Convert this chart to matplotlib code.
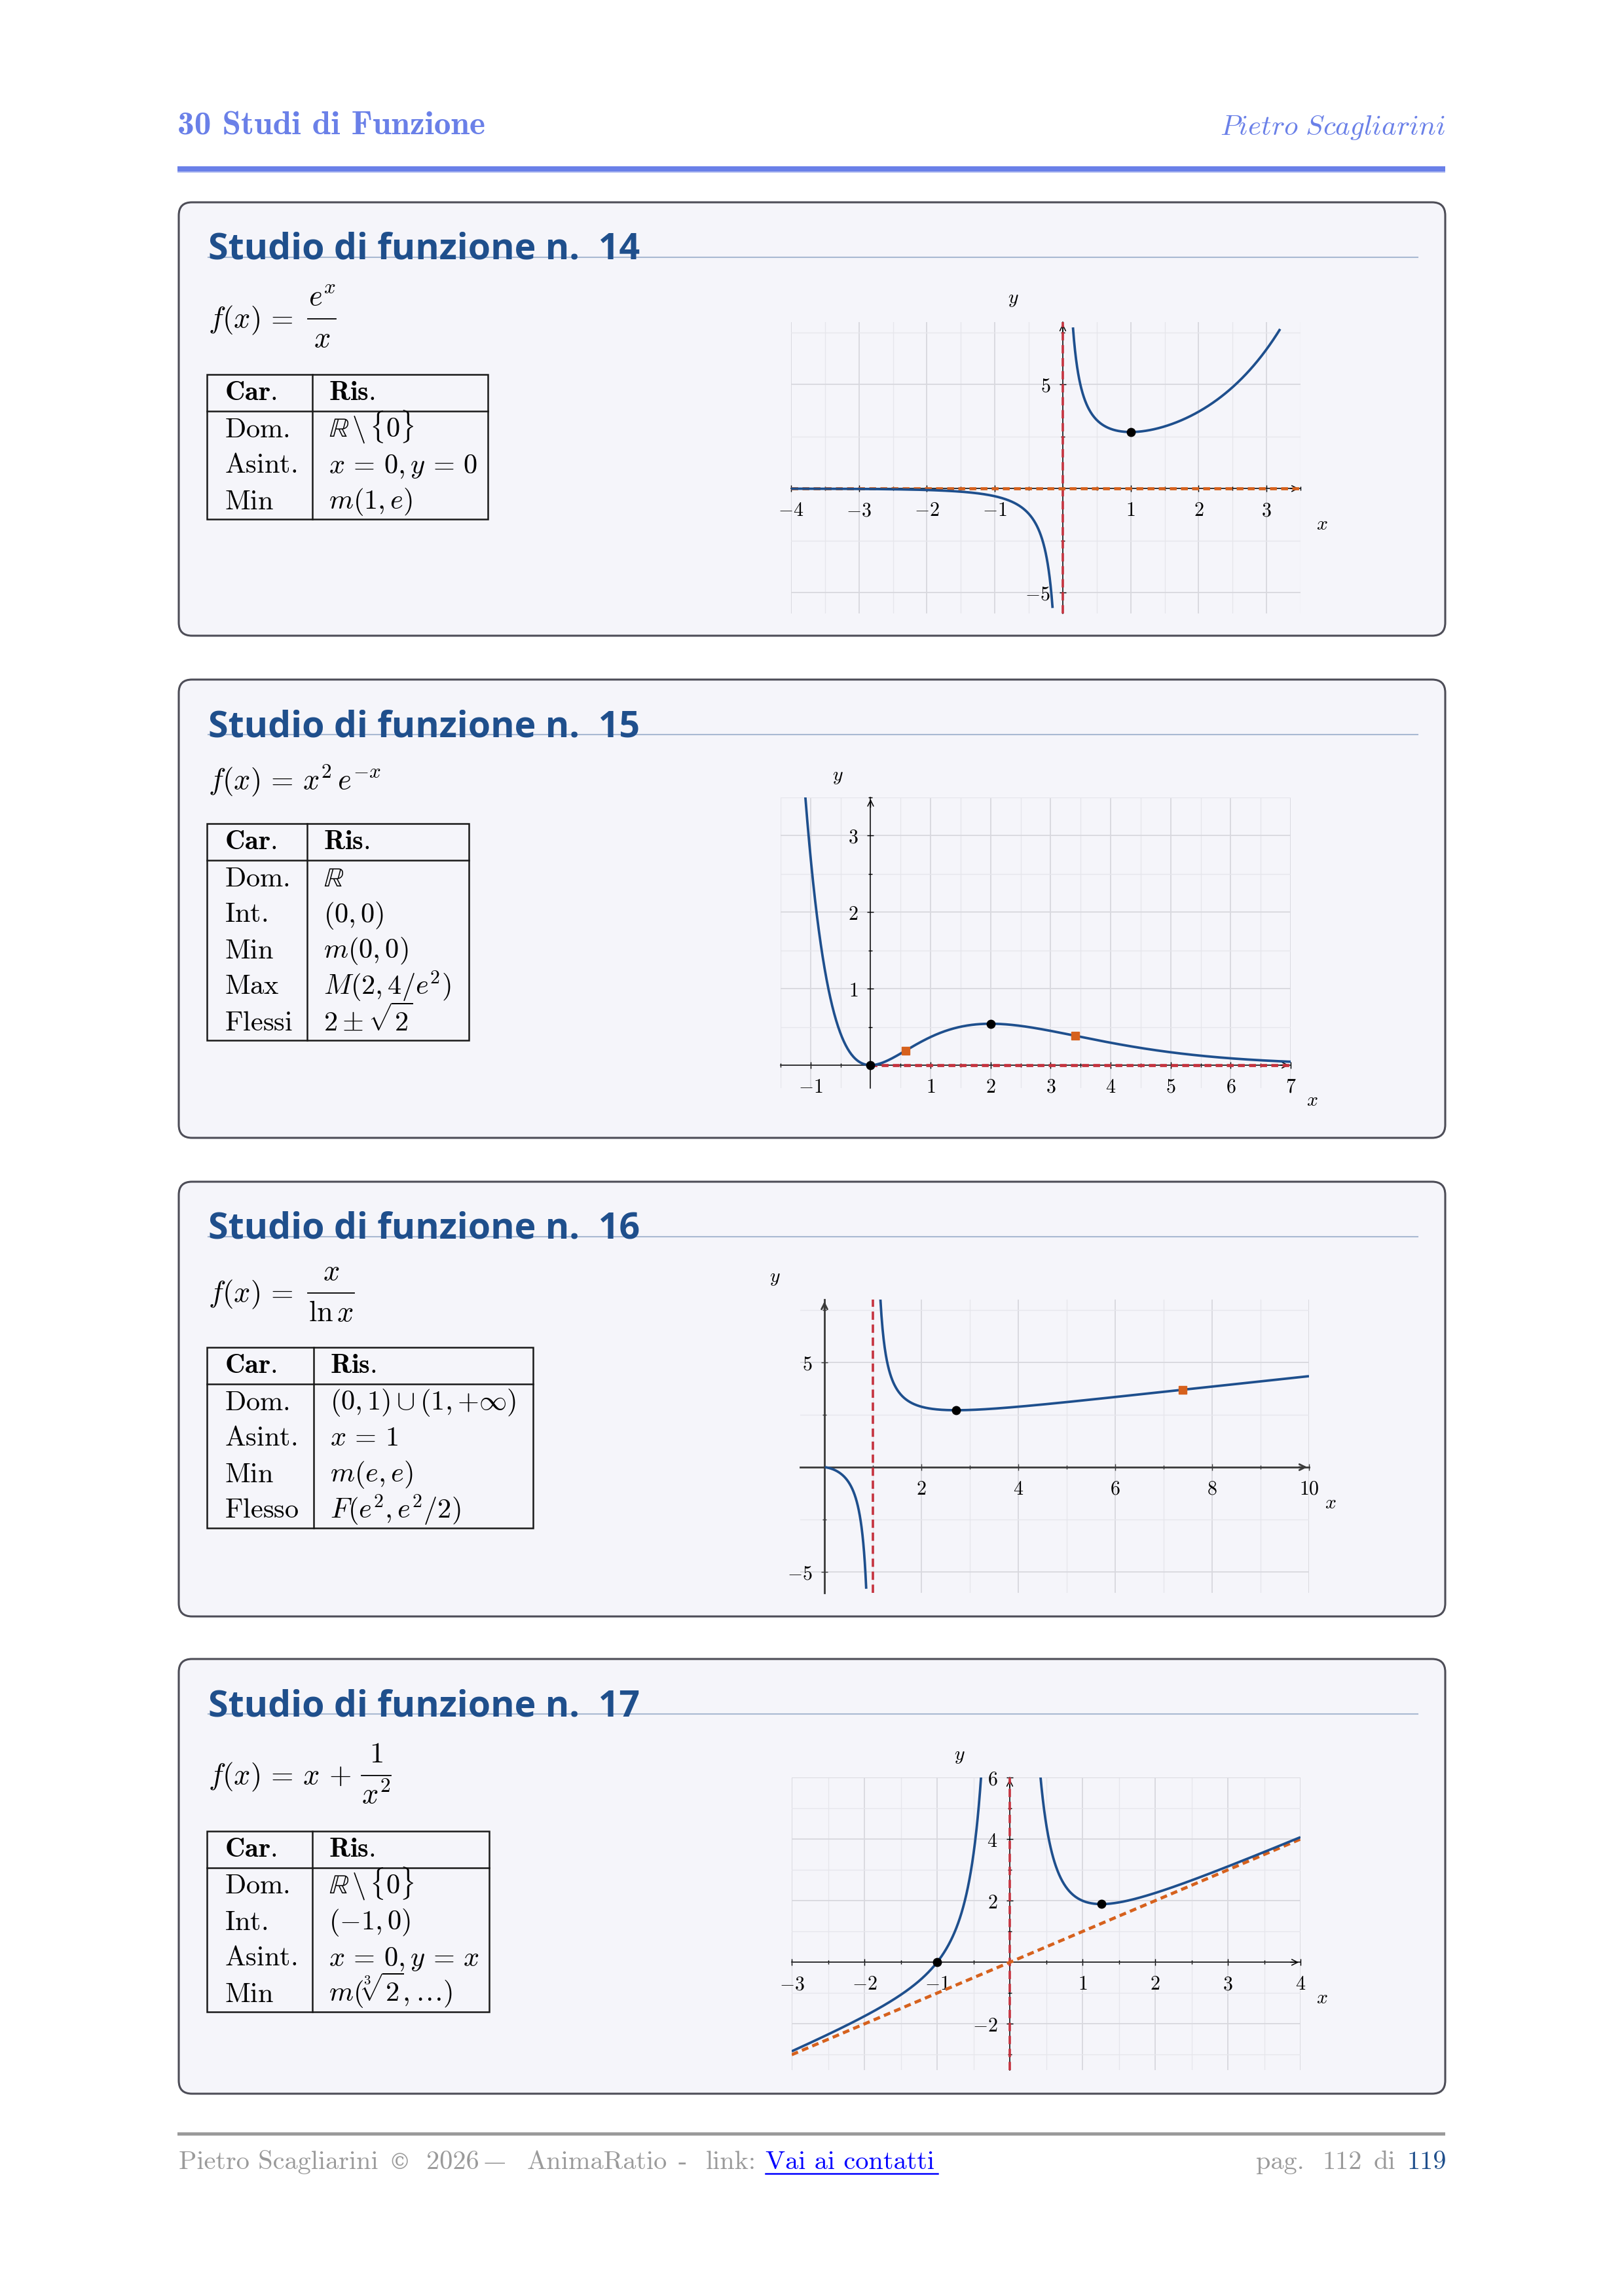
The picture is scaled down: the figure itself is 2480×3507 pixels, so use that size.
import numpy as np
import matplotlib.pyplot as plt
from matplotlib.patches import FancyBboxPatch, Rectangle
from matplotlib.ticker import MultipleLocator, FixedLocator, FixedFormatter

plt.rcParams['mathtext.fontset'] = 'cm'
plt.rcParams['axes.unicode_minus'] = True

# ---------------- dati ----------------
numeri = [14, 15, 16, 17]
# formula: parte sinistra + eventuale frazione (numeratore, denominatore)
formula_sx = [r'$f(x) \,=$', r'$f(x) \,=\, x^2\,e^{-x}$', r'$f(x) \,=$', r'$f(x) \,=\, x \,+$']
formula_num = [r'$e^x$', None, r'$x$', r'$1$']
formula_den = [r'$x$', None, r'$\ln x$', r'$x^2$']

car14 = ['Dom.', 'Asint.', 'Min']
ris14 = [r'$\mathbb{R}\,\backslash\,\{0\}$', r'$x \,=\, 0, y \,=\, 0$', r'$m(1, e)$']
car15 = ['Dom.', 'Int.', 'Min', 'Max', 'Flessi']
ris15 = [r'$\mathbb{R}$', r'$(0, 0)$', r'$m(0, 0)$', r'$M(2, 4/e^2)$', r'$2 \pm \sqrt{2}$']
car16 = ['Dom.', 'Asint.', 'Min', 'Flesso']
ris16 = [r'$(0, 1) \cup (1, {+}\infty)$', r'$x \,=\, 1$', r'$m(e, e)$', r'$F(e^2, e^2/2)$']
car17 = ['Dom.', 'Int.', 'Asint.', 'Min']
ris17 = [r'$\mathbb{R}\,\backslash\,\{0\}$', r'$(-1, 0)$', r'$x \,=\, 0, y \,=\, x$', r'$m(\sqrt[3]{2}, \ldots)$']
car = [car14, car15, car16, car17]
ris = [ris14, ris15, ris16, ris17]

f14 = lambda x: np.exp(x) / x
f15 = lambda x: x**2 * np.exp(-x)
f16 = lambda x: x / np.log(x)
f17 = lambda x: x + 1 / x**2
funzioni = [f14, f15, f16, f17]
domini = [[(-4, -0.15), (0.15, 3.2)],
          [(-1.5, 7)],
          [(0.01, 0.862), (1.155, 10)],
          [(-3, -0.39), (0.4, 4)]]

# punti: min/max (neri) e flessi (arancio)
estremi = [[(1, f14(1))],
           [(0, 0), (2, f15(2))],
           [(np.e, f16(np.e))],
           [(-1, 0), (2 ** (1 / 3), f17(2 ** (1 / 3)))]]
flessi = [[],
          [(2 - np.sqrt(2), f15(2 - np.sqrt(2))), (2 + np.sqrt(2), f15(2 + np.sqrt(2)))],
          [(np.e**2, f16(np.e**2))],
          []]

rosso = '#c5323e'
arancio = '#d6611d'
blu = '#1e4f8d'
# asintoti verticali / obliqui (x0, x1, m, q, colore)
asint_v = [[0], [], [1], [0]]
asint_o = [[(None, None, 0, 0, arancio)],
           [(0, 7, 0, 0, rosso)],
           [],
           [(None, None, 1, 0, arancio)]]

xlims = [(-4, 3.5), (-1.5, 7), (-0.5, 10), (-3, 4)]
ylims = [(-6, 8), (-0.3, 3.5), (-6, 8), (-3.5, 6)]
xticks = [[-4, -3, -2, -1, 1, 2, 3], [-1, 1, 2, 3, 4, 5, 6, 7], [2, 4, 6, 8, 10], [-3, -2, -1, 1, 2, 3, 4]]
yticks = [[-5, 5], [1, 2, 3], [-5, 5], [-2, 2, 4, 6]]
xminor = [0.5, 0.5, 1, 0.5]
yminor = [2.5, 0.5, 2.5, 1]

# piè di pagina: (testo, x, colore)
grigio = '#9a9a9a'
footer = [('Pietro Scagliarini', 273, grigio), ('\u00a9', 593, grigio),
          ('2026', 651, grigio), ('\u2014', 738, grigio),
          ('AnimaRatio', 805, grigio), ('-', 1036, grigio),
          ('link:', 1078, grigio), ('Vai ai contatti', 1169, '#0000ff'),
          ('pag.', 1918, grigio), ('112', 2019, grigio),
          ('di', 2098, grigio), ('119', 2148, '#1f4f8c')]

# ---------------- layout (pixel) ----------------
W, H = 2480, 3507
box_top = [309, 1038, 1805, 2534]
box_bot = [971, 1738, 2469, 3198]
formula_base = [500, 1205, 1988, 2725]
frac_bar = [(470, 513), None, (470, 541), (552, 597)]
tab_top = [572, 1258, 2058, 2797]
tab_div = [477, 469, 479, 477]
tab_right = [745, 716, 814, 747]
plot_rect = [(1208, 492, 1986, 937), (1192, 1218, 1971, 1662),
             (1222, 1985, 1999, 2433), (1209, 2715, 1986, 3162)]
ylab_off = [(-76, 36), (-50, 33), (-76, 33), (-77, 34)]

fig = plt.figure(figsize=(W / 100, H / 100), dpi=100)
page = fig.add_axes([0, 0, 1, 1])
page.set_xlim(0, W)
page.set_ylim(H, 0)
page.axis('off')

# intestazione
page.text(271, 206, '30 Studi di Funzione', family='cmb10', size=37, color='#6a80e8', va='baseline')
page.text(2207, 206, r'$\mathit{Pietro\ Scagliarini}$', size=31, color='#6a80e8', va='baseline', ha='right')
page.add_patch(Rectangle((271, 254), 2207 - 271, 8, color='#6a80e8', lw=0))
page.add_patch(Rectangle((271, 262), 2207 - 271, 2, color='#bcc6f2', lw=0))

# piè di pagina
page.add_patch(Rectangle((271, 3257), 2207 - 271, 5, color='#9a9a9a', lw=0))
for (t, x, c) in footer:
    ascii_ = t.isascii()
    page.text(x, 3313, t, family='cmr10' if ascii_ else 'DejaVu Serif', size=29 if ascii_ else 24,
              color=c, va='baseline')
page.plot([1169, 1432], [3320, 3320], color='#0000ff', lw=1.8)

for i in range(4):
    top = box_top[i]
    page.add_patch(FancyBboxPatch((273, top), 2207 - 273, box_bot[i] - top,
                                  boxstyle='round,pad=0,rounding_size=20',
                                  fc='#f5f5fa', ec='#4d4d57', lw=2.2, zorder=1))
    page.plot([318, 2165], [top + 84, top + 84], color='#a9b9d2', lw=1.5, zorder=2)
    page.text(318, top + 87, f'Studio di funzione n.  {numeri[i]}', family='Open Sans',
              weight='bold', size=40, color='#1f4f8c', va='baseline', zorder=3)

    # formula
    yb = formula_base[i]
    page.text(318, yb, formula_sx[i], size=32, va='baseline', zorder=3)
    if frac_bar[i] is not None:
        a, b = frac_bar[i]
        yf = yb - 13
        page.plot([a, b], [yf, yf], color='black', lw=1.3, zorder=3)
        page.text((a + b) / 2, yf - 20, formula_num[i], size=32, ha='center', va='baseline', zorder=3)
        page.text((a + b) / 2, yf + 43, formula_den[i], size=32, ha='center', va='baseline', zorder=3)

    # tabella
    tl, td, tr, tt = 316, tab_div[i], tab_right[i], tab_top[i]
    n = len(car[i])
    tb = tt + 56 + 55 * n
    page.add_patch(Rectangle((tl, tt), tr - tl, tb - tt, fill=False, ec='#1a1a1a', lw=1.8, zorder=3))
    page.plot([td, td], [tt, tb], color='#1a1a1a', lw=1.8, zorder=3)
    page.plot([tl, tr], [tt + 56, tt + 56], color='#1a1a1a', lw=1.8, zorder=3)
    page.text(tl + 27, tt + 39, r'$\mathbf{Car.}$', size=30.5, va='baseline', zorder=3)
    page.text(td + 25, tt + 39, r'$\mathbf{Ris.}$', size=30.5, va='baseline', zorder=3)
    for j in range(n):
        yr = tt + 56 + 27.5 + 55 * j + 12
        page.text(tl + 27, yr, r'$\mathrm{' + car[i][j] + '}$', size=30.5, va='baseline', zorder=3)
        page.text(td + 25, yr, ris[i][j], size=30.5, va='baseline', zorder=3)

    # grafico
    x0, y0, x1, y1 = plot_rect[i]
    ax = fig.add_axes([x0 / W, 1 - y1 / H, (x1 - x0) / W, (y1 - y0) / H])
    ax.set_facecolor('none')
    ax.set_xlim(*xlims[i])
    ax.set_ylim(*ylims[i])
    ax.xaxis.set_major_locator(FixedLocator(xticks[i]))
    ax.xaxis.set_major_formatter(FixedFormatter([f'${v}$' for v in xticks[i]]))
    ax.yaxis.set_major_locator(FixedLocator(yticks[i]))
    ax.yaxis.set_major_formatter(FixedFormatter([f'${v}$' for v in yticks[i]]))
    ax.xaxis.set_minor_locator(MultipleLocator(xminor[i]))
    ax.yaxis.set_minor_locator(MultipleLocator(yminor[i]))
    ax.grid(which='major', color='#d8d8de', lw=1.3, zorder=0)
    ax.grid(which='minor', color='#e6e6ec', lw=1.0, zorder=0)
    ax.set_axisbelow(True)
    for s in ['top', 'right']:
        ax.spines[s].set_visible(False)
    ax.spines['left'].set_position(('data', 0))
    ax.spines['bottom'].set_position(('data', 0))
    acol = '#3a3a3a' if i == 2 else 'black'
    alw = 2.0 if i == 2 else 1.1
    for s in ['left', 'bottom']:
        ax.spines[s].set_color(acol)
        ax.spines[s].set_linewidth(alw)
    ax.tick_params(which='both', direction='inout', color=acol, width=1)
    ax.tick_params(which='major', length=7, labelsize=21.5, pad=10)
    ax.tick_params(which='minor', length=5)
    ax.annotate('', xy=(1, 0), xycoords=('axes fraction', 'data'), xytext=(-18, 0),
                textcoords='offset pixels',
                arrowprops=dict(arrowstyle='->', color=acol, lw=alw, mutation_scale=16))
    ax.annotate('', xy=(0, 1), xycoords=('data', 'axes fraction'), xytext=(0, -18),
                textcoords='offset pixels',
                arrowprops=dict(arrowstyle='->', color=acol, lw=alw, mutation_scale=16))
    ax.annotate(r'$y$', xy=(0, 1), xycoords=('data', 'axes fraction'), xytext=ylab_off[i],
                textcoords='offset pixels', size=21.5, ha='center', va='center')
    ax.annotate(r'$x$', xy=(1, 0), xycoords=('axes fraction', 'data'), xytext=(33, -54),
                textcoords='offset pixels', size=21.5, ha='center', va='center')

    # asintoti
    for xv in asint_v[i]:
        ax.axvline(xv, color=rosso, lw=2.6, ls=(0, (3.5, 2)), zorder=3)
    for (a, b, m, q, c) in asint_o[i]:
        a = xlims[i][0] if a is None else a
        b = xlims[i][1] if b is None else b
        xs = np.array([a, b])
        ax.plot(xs, m * xs + q, color=c, lw=3.4, ls=(0, (2.2, 1.4)), zorder=3)

    # curva
    for (a, b) in domini[i]:
        xs = np.linspace(a, b, 800)
        ax.plot(xs, funzioni[i](xs), color=blu, lw=2.7, zorder=4, solid_capstyle='butt')

    for (px_, py_) in estremi[i]:
        ax.plot(px_, py_, 'o', color='black', ms=9, zorder=5, clip_on=False)
    for (px_, py_) in flessi[i]:
        ax.plot(px_, py_, 's', color=arancio, ms=8.5, zorder=5, clip_on=False)

fig.savefig('out.png', dpi=100, facecolor='white')
